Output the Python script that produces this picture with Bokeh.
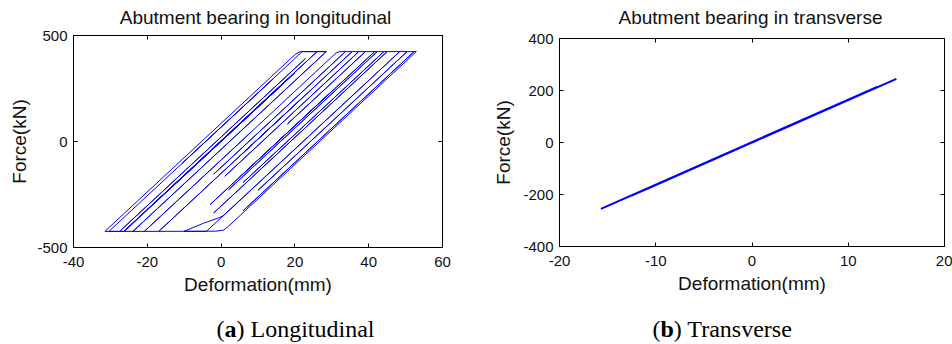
from bokeh.plotting import figure
from bokeh.models import LinearAxis, FixedTicker, Range1d, Spacer
from bokeh.layouts import row, column
from bokeh.core.properties import value
from bokeh.embed import file_html
from bokeh.resources import INLINE

# ---- data ----
# (a) longitudinal bearing: vertices of the hysteresis path (mm, kN)
LON_X = [0.0, 17.0, -12.0, 20.0, -26.2, -31.5, 18.8, 20.2, 21.5, 28.5,
         -23.9, -27.5, 22.9, -27.5, -30.4, 14.0, -10.5, 22.0, 26.0, -26.4,
         18.0, -20.0, 26.0, 28.5, -23.9, -24.1, -20.8, 30.8, 31.4, 32.2,
         33.7, -2.0, 33.7, 35.5, -16.9, 22.0, 5.0, 35.5, 37.3, 1.0,
         37.3, 39.1, 18.0, 39.1, 41.6, -3.0, 30.0, 5.0, 41.6, 42.3,
         2.0, 42.3, 44.1, 6.0, 44.1, 45.0, -2.0, 45.0, 48.4, -4.0,
         -10.1, -4.7, -0.6, 0.7, 48.4, 50.4, 10.0, 50.4, 52.3, 6.0,
         52.3, 52.9, 2.0, 0.7, -1.5, -20.8, 8.0]
LON_F = [0, 275, -194, 324, -424, -424, 390, 412, 424, 424,
         -424, -424, 392, -424, -424, 294, -102, 424, 424, -424,
         295, -321, 424, 424, -424, -424, -424, 412, 420, 424,
         424, -154, 424, 424, -424, 206, -70, 424, 424, -164,
         424, 424, 83, 424, 424, -298, 237, -168, 424, 424,
         -228, 424, 424, -193, 424, 424, -337, 424, 424, -424,
         -424, -385, -360, -349, 424, 424, -230, 424, 424, -326,
         424, 424, -400, -418, -423, -424, 42]

# (b) transverse bearing
TRA_X = [0.0, 6.0, -8.0, 11.0, -12.5, 15.0, -15.7, 13.0, -11.0, 9.0, -5.0, 2.0]
TRA_F = [0, 99, -130, 181, -204, 245, -255, 214, -180, 148, -82, 33]

LON_XTICKS = [-40, -20, 0, 20, 40, 60]
LON_YTICKS = [-500, 0, 500]
TRA_XTICKS = [-20, -10, 0, 10, 20]
TRA_YTICKS = [-400, -200, 0, 200, 400]

TITLES = ["Abutment bearing in longitudinal", "Abutment bearing in transverse"]
XLABEL = "Deformation(mm)"
YLABEL = "Force(kN)"
CAP_LETTERS = ["a", "b"]
CAP_TEXTS = ["Longitudinal", "Transverse"]

SANS = "Liberation Sans"
SERIF = "Liberation Serif"
TXT = "#111111"


def style_axis(ax, ticks, show_labels=True, standoff=6):
    ax.ticker = FixedTicker(ticks=ticks)
    ax.major_tick_in = 4
    ax.major_tick_out = 0
    ax.minor_tick_in = 0
    ax.minor_tick_out = 0
    ax.axis_line_color = "black"
    ax.major_tick_line_color = "black"
    if show_labels:
        ax.major_label_overrides = {t: str(t) for t in ticks}
        ax.major_label_text_font = SANS
        ax.major_label_text_font_size = "15px"
        ax.major_label_text_color = TXT
        ax.major_label_standoff = standoff
        ax.axis_label_text_font = SANS
        ax.axis_label_text_font_style = "normal"
        ax.axis_label_text_color = TXT
    else:
        ax.major_label_text_font_size = "0px"
        ax.major_label_standoff = 0
        ax.major_label_overrides = {t: "" for t in ticks}


def make_plot(xr, yr, xticks, yticks, xs, ys, lw, height, borders, ylabel_standoff):
    bl, br, bt, bb = borders
    p = figure(width=476, height=height, x_range=Range1d(*xr), y_range=Range1d(*yr),
               title=None, output_backend="svg", toolbar_location=None,
               min_border_left=bl, min_border_right=br,
               min_border_top=bt, min_border_bottom=bb)
    p.grid.visible = False
    p.outline_line_color = "black"
    p.outline_line_width = 1
    p.background_fill_color = "white"
    p.border_fill_color = "white"

    style_axis(p.xaxis[0], xticks, standoff=9)
    style_axis(p.yaxis[0], yticks, standoff=6)
    p.xaxis[0].axis_label = XLABEL
    p.xaxis[0].axis_label_text_font_size = "19px"
    p.xaxis[0].axis_label_standoff = 4
    p.yaxis[0].axis_label = YLABEL
    p.yaxis[0].axis_label_text_font_size = "19px"
    p.yaxis[0].axis_label_standoff = ylabel_standoff

    top = LinearAxis()
    style_axis(top, xticks, show_labels=False)
    p.add_layout(top, "above")
    right = LinearAxis()
    style_axis(right, yticks, show_labels=False)
    p.add_layout(right, "right")

    p.line(xs, ys, line_color="#0000ff", line_width=lw)
    return p


def strip(h):
    s = figure(width=952, height=h, x_range=Range1d(0, 952), y_range=Range1d(h, 0),
               title=None, output_backend="svg", toolbar_location=None,
               min_border_left=0, min_border_right=0, min_border_top=0,
               min_border_bottom=0, x_axis_type=None, y_axis_type=None)
    s.grid.visible = False
    s.outline_line_color = None
    s.background_fill_color = "white"
    s.border_fill_color = "white"
    return s


# titles strip (y from 0 to 28 in page pixels); y is the text's middle
top_strip = strip(28)
top_strip.text(x=[255, 750], y=[17.4, 17.4], text=TITLES,
               text_font=value(SANS), text_font_size=value("19px"), text_color=TXT,
               text_align="center", text_baseline="middle")

# plots: from y=28 to y=305; the right one starts 3px lower
p1 = make_plot((-40, 60), (-500, 500), LON_XTICKS, LON_YTICKS, LON_X, LON_F, 1,
               277, (73, 34, 7, 58), 4)
p2 = make_plot((-20, 20), (-400, 400), TRA_XTICKS, TRA_YTICKS, TRA_X, TRA_F, 2,
               274, (83, 8, 7, 59), 6)
right_col = column(Spacer(width=476, height=3), p2)

# captions strip (y from 305 to 344)
cap_strip = strip(39)
CAP_LEFT = [216, 652]
W_PAREN = 8.0
W_LET = [12.0, 13.3]
MID = 23.5
FS = "24px"
cap_strip.text(x=[CAP_LEFT[0], CAP_LEFT[1]], y=[MID, MID], text=["(", "("],
               text_font=value(SERIF), text_font_size=value(FS), text_color="black",
               text_align="left", text_baseline="middle")
cap_strip.text(x=[CAP_LEFT[0] + W_PAREN, CAP_LEFT[1] + W_PAREN], y=[MID, MID],
               text=CAP_LETTERS,
               text_font=value(SERIF), text_font_size=value(FS), text_color="black",
               text_font_style="bold",
               text_align="left", text_baseline="middle")
cap_strip.text(x=[CAP_LEFT[0] + W_PAREN + W_LET[0], CAP_LEFT[1] + W_PAREN + W_LET[1]],
               y=[MID, MID], text=[") " + t for t in CAP_TEXTS],
               text_font=value(SERIF), text_font_size=value(FS), text_color="black",
               text_align="left", text_baseline="middle")

layout = column(top_strip, row(p1, right_col), cap_strip)
open("out.html", "w").write(file_html(layout, INLINE))
